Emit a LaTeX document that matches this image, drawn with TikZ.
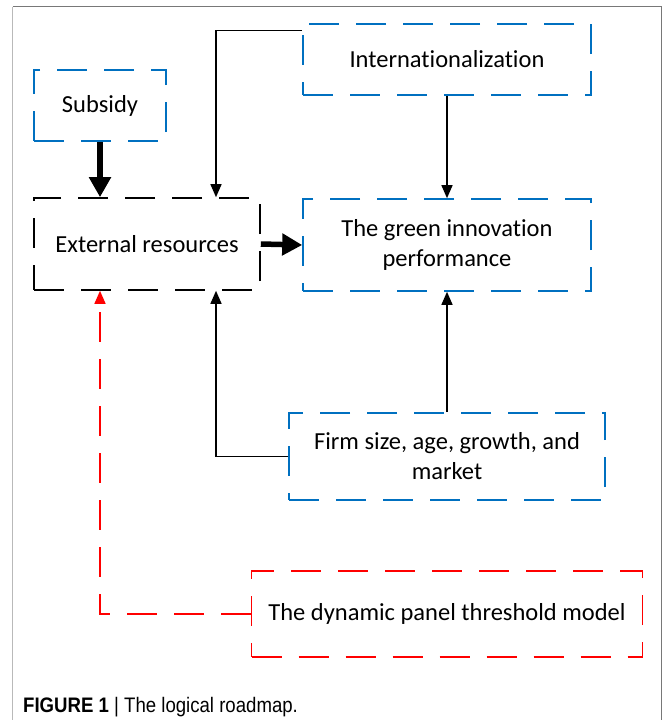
\documentclass[tikz,border=0pt]{standalone}
\usepackage{fontspec}
\setmainfont{Carlito}[RawFeature=-liga]
\newfontfamily\capfont{Liberation Sans}
\usetikzlibrary{arrows.meta}
\definecolor{oblue}{RGB}{0,112,192}
\definecolor{bordergray}{RGB}{120,120,120}
\definecolor{lightgray2}{RGB}{185,185,185}
\tikzset{
  box/.style={draw, line width=1.6pt, dash pattern=on 30pt off 17pt, align=center, inner sep=0pt,
    font=\fontsize{24.5}{30}\selectfont},
  bluebox/.style={box, draw=oblue},
  blackbox/.style={box, draw=black},
  redbox/.style={box, draw=red},
  arr/.style={line width=1.4pt, -{Triangle[length=13pt,width=11pt]}},
  thickarr/.style={line width=5.5pt, -{Triangle[length=20pt,width=21pt]}},
  redarr/.style={line width=1.4pt, draw=red, dash pattern=on 30pt off 17pt, -{Triangle[length=13pt,width=11pt,fill=red]}},
}
\begin{document}
\begin{tikzpicture}[x=1pt,y=-1pt]
\useasboundingbox (0,0) rectangle (663,720);
% frame
\draw[lightgray2, line width=1.5pt] (12.5,720) -- (12.5,6.5);
\draw[bordergray, line width=1.5pt] (12.5,6.5) -- (661.5,6.5) -- (661.5,720);
% boxes
\node[bluebox, minimum width=132pt, minimum height=71pt] (sub) at (100,105.5) {Subsidy};
\node[bluebox, minimum width=288pt, minimum height=71pt] (intl) at (447,59.5) {Internationalization};
\node[blackbox, minimum width=226pt, minimum height=92pt] (ext) at (147,244) {External resources};
\node[bluebox, minimum width=288pt, minimum height=92pt] (green) at (447,245) {The green innovation\\performance};
\node[bluebox, minimum width=316pt, minimum height=87pt] (firm) at (447,456.5) {Firm size, age, growth, and\\market};
\node[redbox, minimum width=391pt, minimum height=86pt] (dyn) at (447,614) {The dynamic panel threshold model};
% connectors
\draw[arr] ([yshift=-7pt]intl.north west) -| ([xshift=69pt]ext.north);
\draw[arr] (intl.south) -- (green.north);
\draw[thickarr] (sub.south) -- (sub.south |- ext.north);
\draw[thickarr] (ext.east) -- (green.west);
\draw[arr] (firm.west) -| ([xshift=69pt]ext.south);
\draw[arr] (firm.north) -- (green.south);
\draw[redarr] (dyn.west) -| (sub.south |- ext.south);
% caption
\node[anchor=base west, inner sep=0pt, font=\capfont\fontsize{21}{24}\selectfont, xscale=0.886] (cap) at (23,712) {\textbf{FIGURE 1} | The logical roadmap.};
\end{tikzpicture}
\end{document}
